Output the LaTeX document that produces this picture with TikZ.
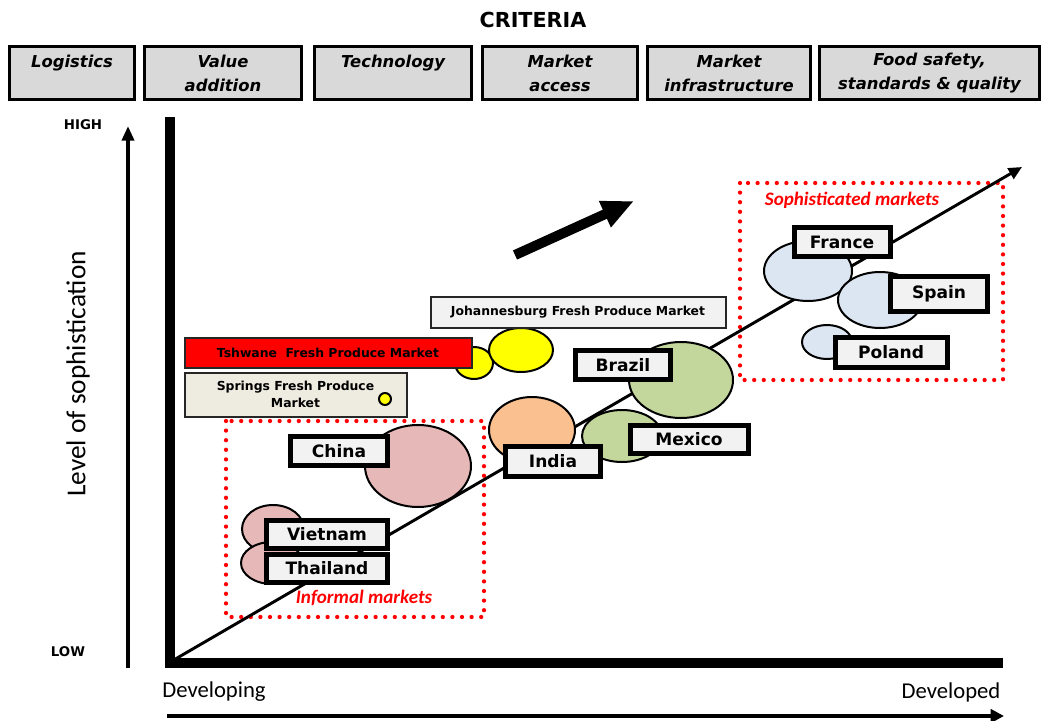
\documentclass[tikz,border=0pt]{standalone}
\usepackage{fontspec}
\setmainfont{DejaVu Sans}[
  ItalicFont={DejaVu Sans Oblique},
  BoldItalicFont={DejaVu Sans Bold Oblique}]
\newfontfamily\calibFont{Carlito}
\usetikzlibrary{arrows.meta}

\definecolor    {critColor}{RGB}{217, 217, 217}
\definecolor   {labelColor}{RGB}{242, 242, 242}
\definecolor  {springColor}{RGB}{238, 236, 225}
\definecolor    {pinkColor}{RGB}{230, 184, 183}
\definecolor  {orangeColor}{RGB}{250, 192, 144}
\definecolor   {greenColor}{RGB}{195, 214, 155}
\definecolor    {blueColor}{RGB}{220, 230, 242}
\definecolor  {yellowColor}{RGB}{255, 255,   0}
\definecolor    {zoneColor}{RGB}{255,   0,   0}

\begin{document}
\begin{tikzpicture}[x=0.75pt, y=-0.75pt,
  crit box/.style    ={draw=black, line width=2.25pt, fill=critColor, align=center, inner sep=0pt,
                       font=\bfseries\itshape\fontsize{12.3}{18}\selectfont},
  country box/.style ={draw=black, line width=3.75pt, fill=labelColor, inner sep=0pt,
                       font=\bfseries\fontsize{12.8}{14}\selectfont},
  market box/.style  ={draw=black!85, line width=1.5pt, inner sep=0pt, align=center,
                       font=\bfseries\fontsize{9.3}{12.5}\selectfont},
  bubble/.style      ={draw=black, line width=1.5pt},
  zone/.style        ={draw=zoneColor, line width=3.2pt, dash pattern=on 0pt off 7.2pt, line cap=round},
  zone label/.style  ={text=zoneColor, font=\calibFont\bfseries\itshape\fontsize{14.3}{16}\selectfont},
  axis line/.style   ={line width=7.5pt, line join=miter},
  trend line/.style  ={line width=2.2pt, -{Triangle[length=10pt, width=9pt]}},
]
%%%%%%%%%%%%%%%%%%%%%%%%%%%%%%%%%%%%%%%%%%%%%%%%%%%%%%%%%%%%%%%%%%%%%%%%%%%%%%%%%%%%%%%%%
%
%   FRAME + CRITERIA
%
%%%%%%%%%%%%%%%%%%%%%%%%%%%%%%%%%%%%%%%%%%%%%%%%%%%%%%%%%%%%%%%%%%%%%%%%%%%%%%%%%%%%%%%%%
\useasboundingbox (0,0) rectangle (1044,720);

\node[font=\bfseries\fontsize{15.5}{18}\selectfont] (criteria) at (533,20) {CRITERIA};

\foreach \name/\l/\r/\txt in {
    logistics/8/136/{Logistics\\\phantom{d}},
    value/143/303/{Value\\addition},
    tech/313/473/{Technology\\\phantom{d}},
    access/481/639/{Market\\access},
    infra/646/812/{Market\\infrastructure},
    safety/818/1041/{Food safety,\\standards \& quality}}
  \node[crit box, minimum width={(\r-\l-3)*0.75pt}, minimum height={53*0.75pt}]
    (\name) at ({(\l+\r)/2},73) {\txt};

%% axes
\coordinate (ytop)   at (170,117);
\coordinate (corner) at (170,663);
\coordinate (xend)   at (1003,663);
\draw[axis line] (ytop) -- (corner) -- (xend);

\coordinate (lowEnd)  at (128,668);
\coordinate (highEnd) at (128,126);
\draw[line width=3pt, -{Triangle[length=11pt, width=9pt]}] (lowEnd) -- (highEnd);

\coordinate (devStart) at (167,716);
\coordinate (devEnd)   at (1004,716);
\draw[line width=3.2pt, -{Triangle[length=10pt, width=10pt]}] (devStart) -- (devEnd);

\node[font=\bfseries\fontsize{10}{12}\selectfont] (high) at (83,125) {HIGH};
\node[font=\bfseries\fontsize{10}{12}\selectfont] (low)  at (68,652) {LOW};
\node[font=\calibFont\fontsize{20.5}{24}\selectfont, rotate=90] (level) at (78,374) {Level of sophistication};
\node[font=\calibFont\fontsize{17}{20}\selectfont] (developing) at (214,692) {Developing};
\node[font=\calibFont\fontsize{17}{20}\selectfont] (developed)  at (951,692) {Developed};

%%%%%%%%%%%%%%%%%%%%%%%%%%%%%%%%%%%%%%%%%%%%%%%%%%%%%%%%%%%%%%%%%%%%%%%%%%%%%%%%%%%%%%%%%
%
%   MARKETS
%
%%%%%%%%%%%%%%%%%%%%%%%%%%%%%%%%%%%%%%%%%%%%%%%%%%%%%%%%%%%%%%%%%%%%%%%%%%%%%%%%%%%%%%%%%
\draw[zone] (226,421) rectangle (484,617);
\draw[zone] (740,183) rectangle (1003,380);
\node[zone label] (informal) at (364,598) {Informal markets};
\node[zone label] (sophisticated) at (852,200) {Sophisticated markets};

%% trend
\coordinate (origin) at (172,661);
\coordinate (trend)  at (1022,167);
\draw[trend line] (origin) -- (trend);

\coordinate (pushStart) at (515,255);
\coordinate (pushEnd)   at (634,201);
\draw[line width=7.5pt, -{Triangle[length=24pt, width=20pt]}] (pushStart) -- (pushEnd);

%% bubbles
\foreach \cx/\cy/\rx/\ry/\col in {
    273/529/31/24/pinkColor, 272/563/31/21/pinkColor, 418/466/53/41/pinkColor,
    532/430/43/33/orangeColor, 681/380/52/38/greenColor, 622/436/40/26/greenColor,
    808/271/44/30/blueColor, 880/300/42/28/blueColor, 827/342/25/17/blueColor,
    474/363/19/16/yellowColor, 521/350/32/22/yellowColor}
  \draw[bubble, fill=\col] (\cx,\cy) ellipse [x radius=\rx, y radius=\ry];

%% labels on top
\node[market box, fill=zoneColor, minimum width={287*0.75pt}, minimum height={30*0.75pt}]
  (tshwane) at (328,352.5) {Tshwane\ \ Fresh Produce Market};
\node[market box, fill=springColor, minimum width={222*0.75pt}, minimum height={44*0.75pt}]
  (springs) at (295.5,394.5) {Springs Fresh Produce\\Market};
\node[market box, fill=labelColor, minimum width={295*0.75pt}, minimum height={31*0.75pt}]
  (joburg) at (578,312) {Johannesburg Fresh Produce Market};
\draw[bubble, fill=yellowColor] (385,399) circle [radius=6];

\foreach \name/\cx/\cy/\w/\h/\txt in {
    china/339/451/102/34/China, vietnam/327/534/126/33/Vietnam, thailand/327/568/126/33/Thailand,
    india/553/461/100/35/India, brazil/623/365/100/34/Brazil, mexico/689/439/123/33/Mexico,
    france/842/242/101/34/France, spain/939/294/102/40/Spain, poland/891/352/117/35/Poland}
  \node[country box, minimum width={(\w-5)*0.75pt}, minimum height={(\h-5)*0.75pt}]
    (\name) at (\cx,\cy) {\txt};

\end{tikzpicture}
\end{document}
